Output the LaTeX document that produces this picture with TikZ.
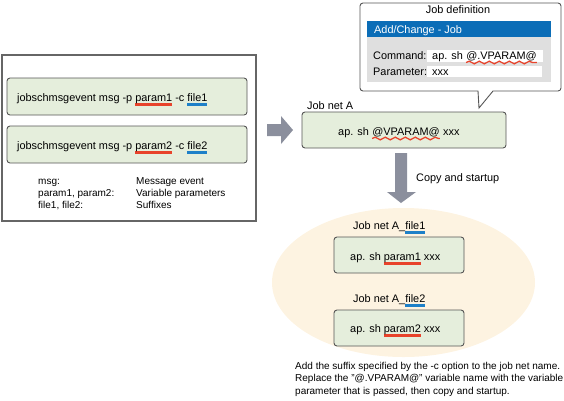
\documentclass[tikz,border=0pt]{standalone}
\usepackage{fontspec}
\setmainfont{Liberation Sans}
\usetikzlibrary{decorations.pathmorphing}
\definecolor{boxgreen}{HTML}{E5EEDC}
\definecolor{ulred}{HTML}{E8432B}
\definecolor{ulblue}{HTML}{1E80C8}
\definecolor{arrowgray}{HTML}{8B8F9D}
\definecolor{ellfill}{HTML}{FDF3E1}
\definecolor{hdrblue}{HTML}{0B6DB7}
\definecolor{panelgray}{HTML}{DFDFDF}
\definecolor{edgegray}{HTML}{555555}
\newcommand\redul[1]{\sbox0{#1}\rlap{\color{ulred}\rule[-4.6pt]{\wd0}{2.2pt}}\usebox0}
\newcommand\blueul[1]{\sbox0{#1}\rlap{\color{ulblue}\rule[-4.6pt]{\wd0}{2.2pt}}\usebox0}
\tikzset{
  txt/.style={inner sep=0pt, anchor=base west, font=\fontsize{10.9}{13}\selectfont},
  smalltxt/.style={txt, font=\fontsize{10}{12}\selectfont},
  cmdbox/.style={draw=edgegray, line width=0.9pt, fill=boxgreen, rounded corners=3pt},
  wavy/.style={draw=ulred, line width=1.3pt, decorate, decoration={snake, amplitude=1.3pt, segment length=10pt}},
  blockarrow/.style={fill=arrowgray, draw=none},
}
\begin{document}
\begin{tikzpicture}[x=1pt,y=-1pt]
\useasboundingbox (0,0) rectangle (564,400);
% left panel
\draw[draw=gray!80!black, line width=1.2pt] (2,55) rectangle (256,221);
\draw[cmdbox] (7,78) rectangle (247,115);
\draw[cmdbox] (7,126) rectangle (247,163);
\node[txt] (c1) at (17,101) {jobschmsgevent msg -p \redul{param1} -c \blueul{file1}};
\node[txt] (c2) at (17,149) {jobschmsgevent msg -p \redul{param2} -c \blueul{file2}};
\node[smalltxt] (l1) at (38,184) {msg:};
\node[smalltxt] (l2) at (38,196) {param1, param2:};
\node[smalltxt] (l3) at (38,208) {file1, file2:};
\node[smalltxt] (r1) at (136,184) {Message event};
\node[smalltxt] (r2) at (136,196) {Variable parameters};
\node[smalltxt] (r3) at (136,208) {Suffixes};
% right arrow
\fill[blockarrow] (267,124) -- (281,124) -- (281,116) -- (293,130) -- (281,144) -- (281,136) -- (267,136) -- cycle;
% callout
\draw[draw=edgegray, line width=0.9pt, fill=white]
  [rounded corners=3pt] (478,91) -- (360,91) -- (360,3) -- (561,3) -- (561,91) [sharp corners] -- (493,91) -- (479,108) -- cycle;
\node[font=\fontsize{10.9}{13}\selectfont, inner sep=0pt] (jd) at (458,10) {Job definition};
\fill[hdrblue] (367,21) rectangle (551,37);
\fill[panelgray] (367,37) rectangle (551,82);
\node[txt, text=white] (hdr) at (374,33) {Add/Change - Job};
\fill[white] (427,50) rectangle (543,62);
\fill[white] (427,66) rectangle (542,77);
\node[txt] (cmdl) at (373,59) {Command:};
\node[txt] (parl) at (373,75) {Parameter:};
\node[txt] (cmda) at (432,59) {ap. sh\kern0.278em};
\node[txt] (cmdb) at (cmda.base east) {@.VPARAM@};
\draw[wavy] ([yshift=-3.5pt]cmdb.base west) -- ([yshift=-3.5pt]cmdb.base east);
\node[txt] (parv) at (432,75) {xxx};
% job net A
\node[txt] (jna) at (307,109) {Job net A};
\draw[cmdbox] (302,112) rectangle (506,148);
\node[txt] (ja) at (338,135) {ap. sh\kern0.278em};
\node[txt] (jb) at (ja.base east) {@VPARAM@};
\node[txt] (jc) at (jb.base east) {\kern0.278em xxx};
\draw[wavy] ([yshift=-3.5pt]jb.base west) -- ([yshift=-3.5pt]jb.base east);
% down arrow
\fill[blockarrow] (395,153) -- (407,153) -- (407,192) -- (416,192) -- (401,203) -- (387,192) -- (395,192) -- cycle;
\node[txt] (cs) at (416,181) {Copy and startup};
% ellipse
\fill[ellfill] (403.5,282.5) ellipse [x radius=131.5, y radius=74.5];
\node[txt] (n1) at (353,229) {Job net A\_\blueul{file1}};
\draw[cmdbox] (334,237) rectangle (464,273);
\node[txt] (b1) at (350,260) {ap. sh \redul{param1} xxx};
\node[txt] (n2) at (353,302) {Job net A\_\blueul{file2}};
\draw[cmdbox] (334,310) rectangle (464,346);
\node[txt] (b2) at (350,332) {ap. sh \redul{param2} xxx};
% note
\node[smalltxt, anchor=north west, align=left, font=\fontsize{10}{12.5}\selectfont] (note) at (295,362)
  {Add the suffix specified by the -c option to the job net name.\\
   Replace the "@.VPARAM@" variable name with the variable\\
   parameter that is passed, then copy and startup.};
\end{tikzpicture}
\end{document}
